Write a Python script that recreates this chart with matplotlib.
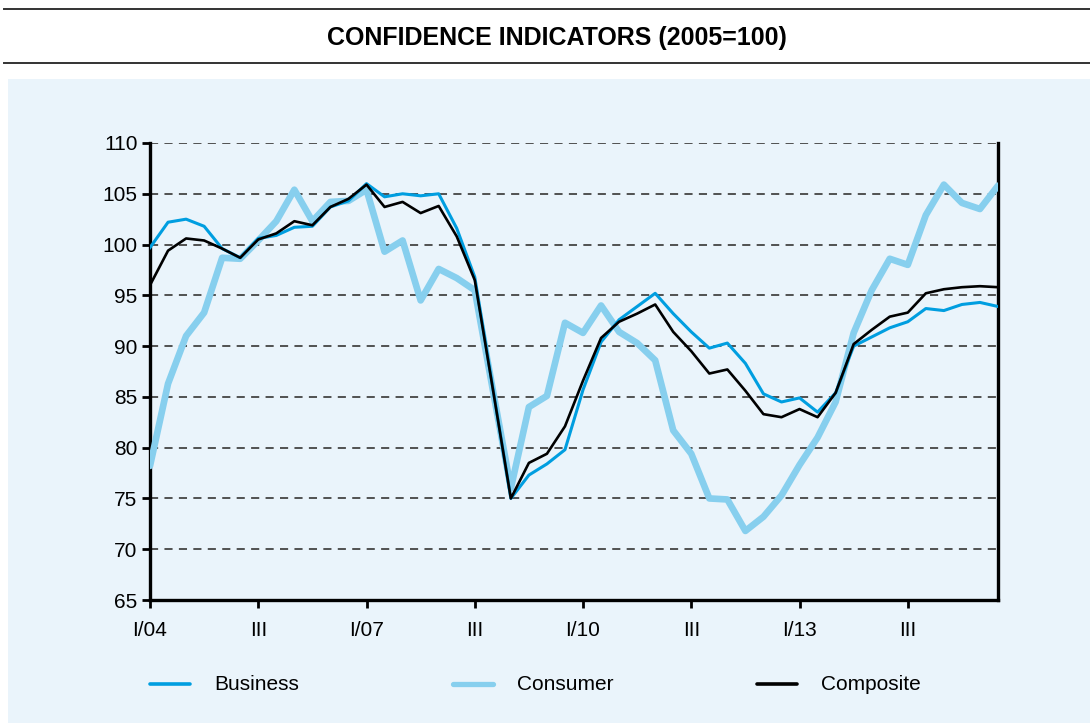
import matplotlib.pyplot as plt
from matplotlib.lines import Line2D
from matplotlib.patches import Rectangle

# quarterly data, I/2004 .. IV/2015
business = [99.7, 102.2, 102.5, 101.8, 99.6, 98.7, 100.6, 100.9, 101.7, 101.8,
            103.7, 104.3, 106.0, 104.7, 105.0, 104.8, 105.0, 101.6, 96.8, 85.9,
            75.0, 77.3, 78.4, 79.8, 85.7, 90.4, 92.6, 93.9, 95.2, 93.2,
            91.4, 89.8, 90.3, 88.3, 85.3, 84.5, 84.9, 83.5, 85.4, 90.0,
            90.9, 91.8, 92.4, 93.7, 93.5, 94.1, 94.3, 93.9]
consumer = [78.2, 86.3, 91.0, 93.3, 98.7, 98.6, 100.4, 102.3, 105.4, 102.3,
            104.2, 104.3, 105.4, 99.3, 100.4, 94.5, 97.6, 96.7, 95.5, 85.7,
            76.0, 84.0, 85.1, 92.3, 91.3, 94.0, 91.4, 90.3, 88.6, 81.7,
            79.4, 75.0, 74.9, 71.8, 73.2, 75.3, 78.3, 81.0, 84.5, 91.3,
            95.5, 98.6, 98.0, 102.9, 105.9, 104.1, 103.5, 105.8]
composite = [96.0, 99.4, 100.6, 100.4, 99.6, 98.7, 100.5, 101.1, 102.3, 101.9,
             103.7, 104.5, 105.9, 103.7, 104.2, 103.1, 103.8, 100.8, 96.5, 85.8,
             75.0, 78.5, 79.4, 82.1, 86.6, 90.8, 92.4, 93.2, 94.1, 91.4,
             89.5, 87.3, 87.7, 85.6, 83.3, 83.0, 83.8, 83.0, 85.4, 90.2,
             91.6, 92.9, 93.3, 95.2, 95.6, 95.8, 95.9, 95.8]
x_ticks = [0, 6, 12, 18, 24, 30, 36, 42]
x_labels = ["I/04", "III", "I/07", "III", "I/10", "III", "I/13", "III"]

plt.rcParams['font.family'] = ['Liberation Sans', 'DejaVu Sans']

fig = plt.figure(figsize=(10.9, 7.23), dpi=100)
W, H = 1090, 723

# background panel and header rules
fig.patches.append(Rectangle((8 / W, 0), 1 - 8 / W, 1 - 79 / H, transform=fig.transFigure,
                             facecolor='#eaf4fb', edgecolor='none', zorder=-10))
fig.add_artist(Line2D([4 / W, 1], [1 - 9 / H] * 2, color='#333333', lw=1.4))
fig.add_artist(Line2D([4 / W, 1], [1 - 63 / H] * 2, color='#333333', lw=1.4))
fig.text(557 / W, 1 - 38 / H, "CONFIDENCE INDICATORS (2005=100)", ha='center', va='center',
         fontsize=18, fontweight='bold')

ax = fig.add_axes([150 / W, 1 - 600 / H, 848 / W, 457 / H])
ax.set_facecolor('none')
ax.set_zorder(5)

quarters = list(range(len(business)))
l_cons, = ax.plot(quarters, consumer, color='#87cfee', lw=4.8, solid_joinstyle='round',
                  solid_capstyle='round', zorder=3)
l_bus, = ax.plot(quarters, business, color='#009ee0', lw=2.2, zorder=4)
l_comp, = ax.plot(quarters, composite, color='black', lw=1.9, zorder=5)

ax.set_xlim(0, 47)
ax.set_ylim(65, 110)
ax.set_yticks(range(65, 111, 5))
ax.set_xticks(x_ticks)
ax.set_xticklabels(x_labels)
for v in range(70, 111, 5):
    ax.axhline(v, color='#444444', lw=1.3, ls=(0, (4.5, 3.5)), zorder=1)

ax.spines['top'].set_visible(False)
for s in ['left', 'bottom', 'right']:
    ax.spines[s].set_linewidth(2.4)
ax.tick_params(axis='both', direction='out', length=6, width=2.0, labelsize=15, colors='black')
ax.tick_params(axis='x', pad=9)
ax.tick_params(axis='y', pad=3)

# legend
for handle, label, xpos in [(l_bus, "Business", 150), (l_cons, "Consumer", 453), (l_comp, "Composite", 757)]:
    fig.add_artist(Line2D([xpos / W, (xpos + 40) / W], [1 - 684 / H] * 2,
                          color=handle.get_color(), lw=3.8 if handle is l_cons else 2.6,
                          solid_capstyle='round'))
    fig.text((xpos + 64) / W, 1 - 684 / H, label, ha='left', va='center', fontsize=15)

fig.savefig("out.png", dpi=100)
